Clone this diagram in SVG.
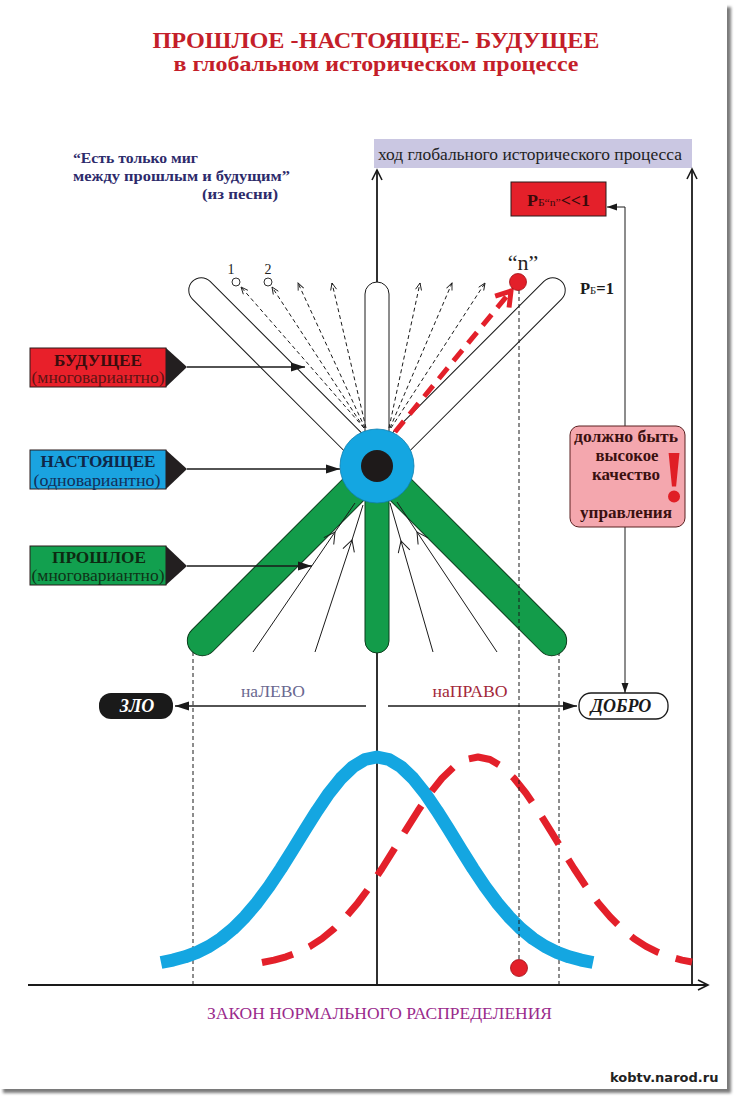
<svg xmlns="http://www.w3.org/2000/svg" width="737" height="1101" viewBox="0 0 737 1101">
<style>
.serif{font-family:"Liberation Serif","Times New Roman",serif}
.b{font-weight:bold}
.ax{stroke:#1a1a1a;stroke-width:1.8;fill:none}
.thin{stroke:#1a1a1a;stroke-width:1;fill:none}
.dash{stroke:#1a1a1a;stroke-width:1;fill:none;stroke-dasharray:4 3}
.lab{stroke:#1a1a1a;stroke-width:1.6;fill:none}
.petalW{fill:#ffffff;stroke:#1a1a1a;stroke-width:1}
.petalG{fill:#139c4a;stroke:#0b3d1c;stroke-width:1}
.box{stroke:#2a1a1a;stroke-width:1}
.ptr{fill:#231f20}
</style>
<defs>
<filter id="sh" x="-5%" y="-5%" width="110%" height="110%"><feGaussianBlur stdDeviation="1.5"/></filter>
<marker id="open" markerUnits="userSpaceOnUse" viewBox="-2 -7 14 14" refX="10" refY="0" markerWidth="14" markerHeight="14" orient="auto"><path d="M0,-5 L10,0 L0,5" fill="none" stroke="#1a1a1a" stroke-width="1.6"/></marker>
<marker id="fill" markerUnits="userSpaceOnUse" viewBox="0 -5 14 10" refX="14" refY="0" markerWidth="14" markerHeight="10" orient="auto"><path d="M0,-4.5 L14,0 L0,4.5 z" fill="#1a1a1a"/></marker>
<marker id="fillS" markerUnits="userSpaceOnUse" viewBox="0 -4 10 8" refX="10" refY="0" markerWidth="10" markerHeight="8" orient="auto"><path d="M0,-3.5 L10,0 L0,3.5 z" fill="#1a1a1a"/></marker>
<marker id="dh" markerUnits="userSpaceOnUse" viewBox="-1 -5 10 10" refX="7" refY="0" markerWidth="10" markerHeight="10" orient="auto"><path d="M0,-3 L7,0 L0,3" fill="none" stroke="#1a1a1a" stroke-width="0.9" stroke-dasharray="none"/></marker>
<marker id="mid" markerUnits="userSpaceOnUse" viewBox="-12 -8 14 16" refX="0" refY="0" markerWidth="14" markerHeight="16" orient="auto"><path d="M-11,-6 L0,0 L-11,6" fill="none" stroke="#1a1a1a" stroke-width="1"/></marker>
<marker id="red" markerUnits="userSpaceOnUse" viewBox="-18 -13 22 26" refX="0" refY="0" markerWidth="22" markerHeight="26" orient="auto"><path d="M-14,-9 L0,0 L-14,9" fill="none" stroke="#e3202a" stroke-width="5" stroke-dasharray="none"/></marker>
</defs>

<g id="page">
<rect x="0" y="0" width="737" height="1101" fill="#ffffff"/>
<rect x="3" y="7" width="728" height="1086" fill="#7a7a7a" filter="url(#sh)"/>
<rect x="0" y="3" width="727" height="1086" fill="#ffffff"/>
</g>

<g id="title" class="serif b" fill="#c41e2a" text-anchor="middle">
<text x="376" y="48" font-size="23" textLength="447" lengthAdjust="spacingAndGlyphs">ПРОШЛОЕ -НАСТОЯЩЕЕ- БУДУЩЕЕ</text>
<text x="376" y="71" font-size="21" textLength="405" lengthAdjust="spacingAndGlyphs">в глобальном историческом процессе</text>
</g>

<g id="quote" class="serif b" fill="#2d2b6b" font-size="15">
<text x="73" y="163" textLength="125" lengthAdjust="spacingAndGlyphs">“Есть только миг</text>
<text x="73" y="181" textLength="217" lengthAdjust="spacingAndGlyphs">между прошлым и будущим”</text>
<text x="202" y="199" textLength="76" lengthAdjust="spacingAndGlyphs">(из песни)</text>
</g>

<g id="header-process">
<rect x="374" y="139" width="318" height="29" fill="#cac7e2"/>
<text class="serif" x="378" y="160" font-size="16.5" fill="#222" textLength="304" lengthAdjust="spacingAndGlyphs">ход глобального исторического процесса</text>
</g>

<g id="axes">
<path class="ax" d="M377,985 L377,170" marker-end="url(#open)"/>
<path class="ax" d="M692,985 L692,169" marker-end="url(#open)"/>
<path class="ax" d="M28,985 L708,985" marker-end="url(#open)"/>
<path class="dash" d="M193,652 L193,985"/>
<path class="dash" d="M559,652 L559,985"/>
</g>

<g id="curves">
<path fill="none" stroke="#14a6e1" stroke-width="13" stroke-linejoin="round" d="M161,962.5 L173,960.1 L185,956.8 L197,952.3 L209,946.4 L221,938.6 L233,928.8 L245,916.8 L257,902.7 L269,886.5 L281,868.5 L293,849.4 L305,829.8 L317,810.8 L329,793.2 L341,778.2 L353,766.7 L365,759.5 L377,757 L389,759.5 L401,766.7 L413,778.2 L425,793.2 L437,810.8 L449,829.8 L461,849.4 L473,868.5 L485,886.5 L497,902.7 L509,916.8 L521,928.8 L533,938.6 L545,946.4 L557,952.3 L569,956.8 L581,960.1 L593,962.5"/>
<path fill="none" stroke="#e3202a" stroke-width="7" stroke-dasharray="32 18" stroke-linejoin="round" d="M262,962.5 L274,960.1 L286,956.8 L298,952.3 L310,946.4 L322,938.6 L334,928.8 L346,916.8 L358,902.7 L370,886.5 L382,868.5 L394,849.4 L406,829.8 L418,810.8 L430,793.2 L442,778.2 L454,766.7 L466,759.5 L478,757 L490,759.5 L502,766.7 L514,778.2 L526,793.2 L538,810.8 L550,829.8 L562,849.4 L574,868.5 L586,886.5 L598,902.7 L610,916.8 L622,928.8 L634,938.6 L646,946.4 L658,952.3 L670,956.8 L682,960.1 L692,962"/>
</g>

<g id="petals">
<rect class="petalW" x="0" y="-12.5" width="261" height="25" rx="12.5" transform="translate(377,466) rotate(-135)"/>
<rect class="petalW" x="0" y="-12.5" width="261" height="25" rx="12.5" transform="translate(377,466) rotate(-45)"/>
<rect class="petalW" x="0" y="-12" width="184" height="24" rx="12" transform="translate(377,466) rotate(-90)"/>
<rect class="petalG" x="0" y="-15" width="262" height="30" rx="15" transform="translate(377,466) rotate(135)"/>
<rect class="petalG" x="0" y="-15" width="262" height="30" rx="15" transform="translate(377,466) rotate(45)"/>
<rect class="petalG" x="0" y="-12" width="187" height="24" rx="12" transform="translate(377,466) rotate(90)"/>
</g>

<g id="connectors">
<path class="dash" d="M364,428 L241,287" marker-end="url(#dh)"/>
<path class="dash" d="M364,428 L272,287" marker-end="url(#dh)"/>
<path class="dash" d="M365,428 L298,283" marker-end="url(#dh)"/>
<path class="dash" d="M366,428 L332,283" marker-end="url(#dh)"/>
<path class="dash" d="M389,428 L420,283" marker-end="url(#dh)"/>
<path class="dash" d="M390,428 L452,283" marker-end="url(#dh)"/>
<path class="dash" d="M391,428 L485,283" marker-end="url(#dh)"/>
<path fill="none" stroke="#e3202a" stroke-width="5" stroke-dasharray="14 9" d="M395,432 L511,291" marker-end="url(#red)"/>
<path class="dash" d="M519,290 L519,962"/>
<path class="thin" d="M253,652 L335,532 L355,503" marker-mid="url(#mid)"/>
<path class="thin" d="M315,652 L352,540 L363,505" marker-mid="url(#mid)"/>
<path class="thin" d="M433,652 L401,541 L390,503" marker-mid="url(#mid)"/>
<path class="thin" d="M497,652 L417,532 L397,502" marker-mid="url(#mid)"/>
<path class="lab" d="M187,367 L305,367" marker-end="url(#fill)"/>
<path class="lab" d="M187,469 L340,469" marker-end="url(#fill)"/>
<path class="lab" d="M187,566 L312,566" marker-end="url(#fill)"/>
<path class="lab" d="M366,706 L175,706" marker-end="url(#fill)"/>
<path class="lab" d="M388,706 L577,706" marker-end="url(#fill)"/>
<path class="thin" d="M625,207 L625,693" marker-end="url(#fillS)"/>
<path class="thin" d="M625,207 L607,207" marker-end="url(#fillS)"/>
</g>

<g id="present-circle">
<circle cx="377" cy="466" r="37" fill="#14a6e1" stroke="#0f7fb0" stroke-width="0.8"/>
<circle cx="377" cy="466" r="16" fill="#1e1a1a"/>
</g>

<g id="variant-points">
<circle cx="236" cy="282" r="4" fill="#fff" stroke="#1a1a1a" stroke-width="0.9"/>
<circle cx="268" cy="282" r="4" fill="#fff" stroke="#1a1a1a" stroke-width="0.9"/>
<text class="serif" x="231" y="274" font-size="14" text-anchor="middle" fill="#222">1</text>
<text class="serif" x="268" y="274" font-size="14" text-anchor="middle" fill="#222">2</text>
<circle cx="518" cy="282" r="8.5" fill="#e3202a" stroke="#a01018" stroke-width="0.8"/>
<text class="serif" x="523" y="270" font-size="22" text-anchor="middle" fill="#222">“n”</text>
<circle cx="519" cy="968" r="8.5" fill="#e3202a" stroke="#a01018" stroke-width="0.8"/>
</g>

<g id="label-future">
<rect class="box" x="30" y="348" width="136" height="39" fill="#e8202a"/>
<polygon class="ptr" points="166,348 187,367 166,387"/>
<text class="serif b" x="98" y="366" font-size="17" text-anchor="middle" fill="#3b0d0d" textLength="88" lengthAdjust="spacingAndGlyphs">БУДУЩЕЕ</text>
<text class="serif" x="98" y="383" font-size="17" text-anchor="middle" fill="#5e1414" textLength="133" lengthAdjust="spacingAndGlyphs">(многовариантно)</text>
</g>

<g id="label-present">
<rect class="box" x="30" y="450" width="136" height="39" fill="#1aa3e0"/>
<polygon class="ptr" points="166,450 187,469 166,489"/>
<text class="serif b" x="98" y="467" font-size="17" text-anchor="middle" fill="#0f2748" textLength="115" lengthAdjust="spacingAndGlyphs">НАСТОЯЩЕЕ</text>
<text class="serif" x="97" y="486" font-size="17" text-anchor="middle" fill="#12305a" textLength="127" lengthAdjust="spacingAndGlyphs">(одновариантно)</text>
</g>

<g id="label-past">
<rect class="box" x="30" y="546" width="136" height="39" fill="#12a04f"/>
<polygon class="ptr" points="166,546 187,566 166,585"/>
<text class="serif b" x="99" y="563" font-size="17" text-anchor="middle" fill="#0d2a12" textLength="94" lengthAdjust="spacingAndGlyphs">ПРОШЛОЕ</text>
<text class="serif" x="98" y="581" font-size="17" text-anchor="middle" fill="#0f3318" textLength="133" lengthAdjust="spacingAndGlyphs">(многовариантно)</text>
</g>

<g id="prob-n">
<rect class="box" x="511" y="182" width="95" height="34" fill="#e4202a"/>
<text class="serif b" x="527" y="206" font-size="17" fill="#3a0a0a" textLength="63" lengthAdjust="spacingAndGlyphs">Р<tspan font-size="11" font-weight="normal">Б“n”</tspan><tspan font-size="17">&lt;&lt;1</tspan></text>
</g>

<g id="prob-1">
<text class="serif b" x="580" y="294" font-size="17" fill="#1a1a1a" textLength="34" lengthAdjust="spacingAndGlyphs">Р<tspan font-size="11" font-weight="normal">Б</tspan>=1</text>
</g>

<g id="quality-note">
<rect x="570" y="426" width="115" height="101" rx="9" fill="#f4a7ae" stroke="#5a2020" stroke-width="1"/>
<g class="serif b" font-size="16" fill="#3a1010" text-anchor="middle">
<text x="626" y="442" textLength="104" lengthAdjust="spacingAndGlyphs">должно быть</text>
<text x="627" y="461" textLength="63" lengthAdjust="spacingAndGlyphs">высокое</text>
<text x="626" y="480" textLength="68" lengthAdjust="spacingAndGlyphs">качество</text>
<text x="626" y="518" textLength="92" lengthAdjust="spacingAndGlyphs">управления</text>
</g>
<text class="serif b" x="674" y="502" font-size="74" fill="#e01f26" text-anchor="middle">!</text>
</g>

<g id="evil">
<rect x="99" y="693" width="74" height="26" rx="12" fill="#1a1a1a"/>
<text class="serif b" x="137" y="712" font-size="18" font-style="italic" fill="#ffffff" text-anchor="middle">ЗЛО</text>
</g>

<g id="good">
<rect x="579" y="693" width="89" height="26" rx="12" fill="#ffffff" stroke="#1a1a1a" stroke-width="1.3"/>
<text class="serif b" x="621" y="712" font-size="18" font-style="italic" fill="#1a1a1a" text-anchor="middle">ДОБРО</text>
</g>

<g id="directions" class="serif" font-size="16" text-anchor="middle">
<text x="273" y="697" fill="#6a6890" textLength="64" lengthAdjust="spacingAndGlyphs">наЛЕВО</text>
<text x="470" y="697" fill="#a3283a" textLength="75" lengthAdjust="spacingAndGlyphs">наПРАВО</text>
</g>

<g id="caption">
<text class="serif" x="207" y="1019" font-size="17" fill="#9a2a8c" textLength="345" lengthAdjust="spacingAndGlyphs">ЗАКОН НОРМАЛЬНОГО РАСПРЕДЕЛЕНИЯ</text>
</g>

<g id="footer">
<text x="610" y="1082" font-family="'DejaVu Sans',Verdana,sans-serif" font-weight="bold" font-size="13" fill="#222">kobtv.narod.ru</text>
</g>
</svg>
